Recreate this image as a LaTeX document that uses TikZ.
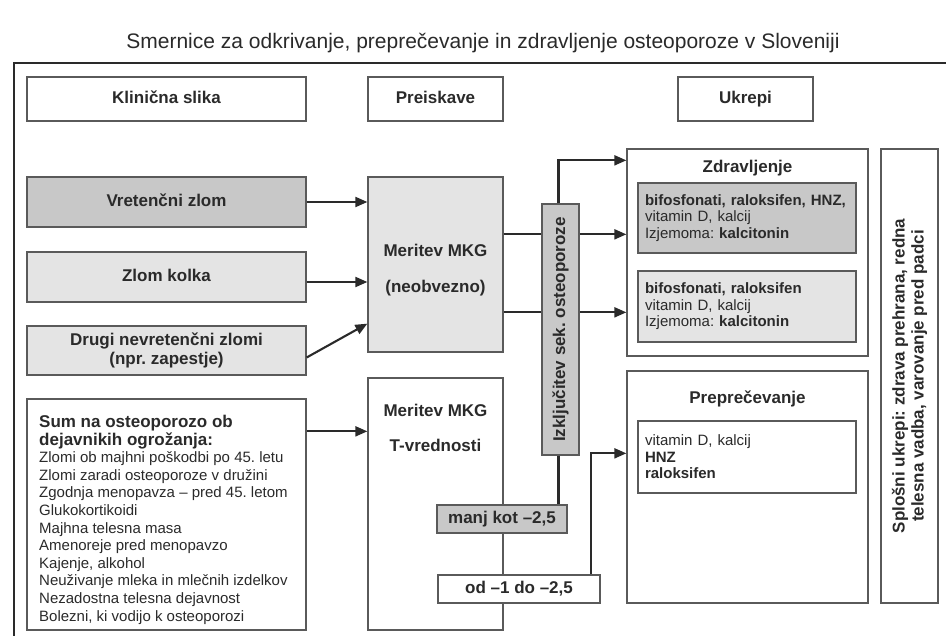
\documentclass[tikz,border=0pt]{standalone}
\usepackage{fontspec}
\setmainfont{Liberation Sans}
\usetikzlibrary{arrows.meta}
\frenchspacing

\definecolor{temno}{HTML}{C8C8C8}
\definecolor{svetlo}{HTML}{E4E4E4}
\definecolor{rob}{HTML}{5A5A5A}
\definecolor{crka}{HTML}{2A2A2A}

\newcommand{\velika}{\fontsize{17}{20}\selectfont\bfseries}
\newcommand{\mala}{\fontsize{15}{16.5}\selectfont}

\tikzset{
  okvir/.style={draw=rob, line width=1.3pt, text=crka, inner sep=0pt, font=\velika},
  glava/.style={okvir, text height=12pt, text depth=3.5pt},
  temna/.style={okvir, fill=temno},
  svetla/.style={okvir, fill=svetlo},
  seznam/.style={okvir, align=left, inner xsep=7pt, text width=204pt, font=\mala},
  puscica/.style={->, line width=2.1pt, draw=crka},
  crta/.style={line width=2.1pt, draw=crka},
}

\begin{document}
\begin{tikzpicture}[x=1pt, y=-1pt, >={Triangle[length=12pt,width=10pt]}]
    \useasboundingbox (0,0) rectangle (946,636);

    % naslov in okvir
    \node[text=crka] (naslov) at (483,43) {\fontsize{21}{24}\selectfont Smernice za odkrivanje, preprečevanje in zdravljenje osteoporoze v Sloveniji};
    \draw[line width=2.4pt, draw=crka] (946,63) -- (14,63) -- (14,636);

    % glave stolpcev
    \node[glava, minimum width=279pt, minimum height=44pt] (klin) at (166.5,99) {Klinična slika};
    \node[glava, minimum width=135pt, minimum height=44pt] (preis) at (435.5,99) {Preiskave};
    \node[glava, minimum width=135pt, minimum height=44pt] (ukr) at (745.5,99) {Ukrepi};

    % klinična slika
    \node[temna, glava, minimum width=279pt, minimum height=50pt] (vret) at (166.5,202) {Vretenčni zlom};
    \node[svetla, glava, minimum width=279pt, minimum height=50pt] (kolk) at (166.5,277) {Zlom kolka};
    \node[svetla, minimum width=279pt, minimum height=49pt, align=center, font=\fontsize{17}{19}\selectfont\bfseries] (drug) at (166.5,350.5) {Drugi nevretenčni zlomi\\(npr. zapestje)};
    \node[okvir, minimum width=279pt, minimum height=231pt] (sum) at (166.5,514.5) {};
    \node[anchor=north west, align=left, inner sep=0pt, text=crka, font=\fontsize{15}{17.6}\selectfont] (sumtxt) at (39,415)
        {\textbf{\fontsize{17}{16}\selectfont Sum na osteoporozo ob}\\
         \textbf{\fontsize{17}{16}\selectfont dejavnikih ogrožanja:}\\
         Zlomi ob majhni poškodbi po 45. letu\\
         Zlomi zaradi osteoporoze v družini\\
         Zgodnja menopavza – pred 45. letom\\
         Glukokortikoidi\\
         Majhna telesna masa\\
         Amenoreje pred menopavzo\\
         Kajenje, alkohol\\
         Neuživanje mleka in mlečnih izdelkov\\
         Nezadostna telesna dejavnost\\
         Bolezni, ki vodijo k osteoporozi};

    % preiskave
    \node[svetla, minimum width=135pt, minimum height=175pt] (mkgA) at (435.5,264.5) {};
    \node[align=center, text=crka, font=\fontsize{17}{36}\selectfont\bfseries] (mkgAtxt) at (435.5,270) {Meritev MKG\\(neobvezno)};
    \node[okvir, minimum width=135pt, minimum height=252pt] (mkgB) at (435.5,504) {};
    \node[align=center, text=crka, font=\fontsize{17}{35}\selectfont\bfseries] (mkgBtxt) at (435.5,427.5) {Meritev MKG\\T-vrednosti};

    % ukrepi
    \node[okvir, minimum width=241pt, minimum height=207pt] (zdr) at (747.5,252.5) {};
    \node[text=crka, font=\velika] (zdrnasl) at (747.5,168) {Zdravljenje};
    \node[seznam, fill=temno, minimum height=70pt] (zdrA) at (747,218)
        {\textbf{bifosfonati, raloksifen, HNZ,}\\vitamin D, kalcij\\Izjemoma: \textbf{kalcitonin}};
    \node[seznam, fill=svetlo, minimum height=71pt] (zdrB) at (747,306.5)
        {\textbf{bifosfonati, raloksifen}\\vitamin D, kalcij\\Izjemoma: \textbf{kalcitonin}};
    \node[okvir, minimum width=241pt, minimum height=232pt] (prp) at (747.5,487) {};
    \node[text=crka, font=\velika] (prpnasl) at (747.5,399) {Preprečevanje};
    \node[seznam, fill=white, minimum height=72pt] (prpA) at (747,457)
        {vitamin D, kalcij\\\textbf{HNZ}\\\textbf{raloksifen}};
    \node[okvir, minimum width=57pt, minimum height=454pt] (spl) at (909.5,376) {};
    \node[rotate=90, align=center, text=crka, font=\fontsize{17}{19}\selectfont\bfseries] (spltxt) at (spl.center)
        {Splošni ukrepi: zdrava prehrana, redna\\telesna vadba, varovanje pred padci};

    % puščice iz klinične slike
    \draw[puscica] (vret.east) -- (vret.east -| mkgA.west);
    \draw[puscica] ([yshift=-5pt]kolk.east) -- ([yshift=-5pt]kolk.east -| mkgA.west);
    \draw[puscica] ([yshift=-7pt]drug.east) -- ([yshift=29pt]mkgA.south west);
    \draw[puscica] ([yshift=-33pt]sum.north east) -- ([yshift=-33pt]sum.north east -| mkgB.west);

    % od MKG do zdravljenja (čez izključitev)
    \draw[puscica] ([yshift=-58pt]mkgA.north east) -- ([yshift=-58pt]mkgA.north east -| zdr.west);
    \draw[puscica] ([yshift=-136pt]mkgA.north east) -- ([yshift=-136pt]mkgA.north east -| zdr.west);
    \node[temna, minimum width=37pt, minimum height=251pt] (izk) at (560.5,329.5) {};
    \node[rotate=90, text=crka, font=\velika] (izktxt) at (izk.center) {Izključitev sek. osteoporoze};
    \draw[puscica] ([xshift=-2pt]izk.north) |- ([yshift=-12pt]zdr.north west);

    % T-vrednosti
    \node[temna, glava, minimum width=130pt, minimum height=28pt] (manj) at (502,519) {manj kot –2,5};
    \node[glava, fill=white, minimum width=162pt, minimum height=28pt] (od) at (519,589) {od –1 do –2,5};
    \draw[crta] ([xshift=-2pt]izk.south) -- ([xshift=-2pt]izk.south |- manj.north);
    \draw[puscica] ([xshift=-10pt]od.north east) |- ([yshift=-83pt]prp.north west);
\end{tikzpicture}
\end{document}
